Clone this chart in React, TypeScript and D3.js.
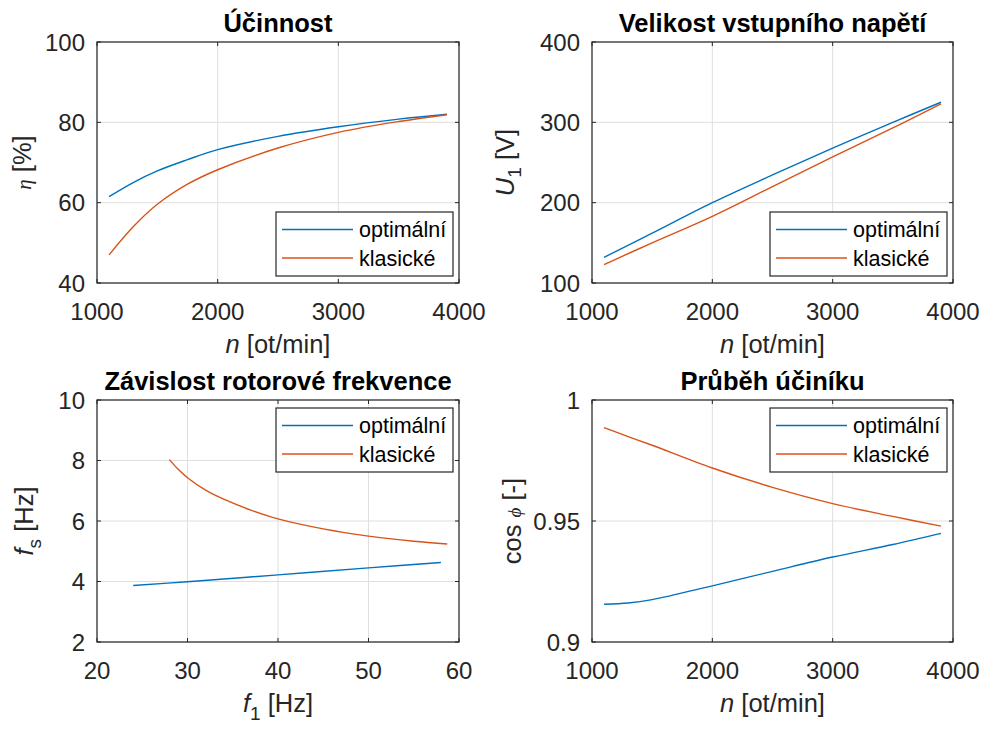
import React from 'react';
import * as d3 from 'd3';

// ---------- data ----------
const nRpmEta = [1100, 1300, 1500, 1750, 2000, 2500, 3000, 3500, 3900];
const etaOptimal = [61.5, 65.0, 67.9, 70.7, 73.2, 76.5, 78.9, 80.8, 82.0];
const etaClassic = [47.0, 54.0, 59.6, 64.6, 68.2, 73.6, 77.5, 80.2, 81.9];

const nRpmU = [1100, 1500, 2000, 2500, 3000, 3500, 3900];
const uOptimal = [132, 162, 200, 234.5, 268, 300, 325];
const uClassic = [123, 150, 183, 220, 257, 293, 323];

const f1Optimal = [24, 30, 40, 50, 58];
const fsOptimal = [3.87, 3.99, 4.22, 4.45, 4.63];
const f1Classic = [28, 29, 30, 32, 34, 37, 40, 45, 50, 55, 58.7];
const fsClassic = [8.03, 7.7, 7.43, 7.02, 6.72, 6.36, 6.07, 5.74, 5.5, 5.33, 5.24];

const nRpmCos = [1100, 1300, 1500, 2000, 2500, 3000, 3500, 3900];
const cosOptimal = [0.9156, 0.9161, 0.9175, 0.9232, 0.9292, 0.9351, 0.9403, 0.9449];
const cosClassic = [0.9886, 0.9849, 0.9813, 0.9719, 0.9639, 0.9572, 0.9519, 0.9479];

const nTicks = [1000, 2000, 3000, 4000];
const etaTicks = [40, 60, 80, 100];
const uTicks = [100, 200, 300, 400];
const f1Ticks = [20, 30, 40, 50, 60];
const fsTicks = [2, 4, 6, 8, 10];
const cosTicks = [0.9, 0.95, 1];

const legendLabels = ['optimální', 'klasické'];
const titles = ['Účinnost', 'Velikost vstupního napětí', 'Závislost rotorové frekvence', 'Průběh účiníku'];

const BLUE = '#0072BD';
const ORANGE = '#D95319';
const AX = '#262626';
const GRID = '#dfdfdf';
const FONT = '"Liberation Sans", Arial, Helvetica, sans-serif';
const SERIF = '"Liberation Serif", "DejaVu Serif", serif';

type Box = { l: number; r: number; t: number; b: number };

type PanelProps = {
  box: Box;
  xDomain: [number, number];
  yDomain: [number, number];
  xTicks: number[];
  yTicks: number[];
  title: string;
  xLabel: React.ReactNode;
  yLabel: React.ReactNode;
  yLabelX: number;
  series: { x: number[]; y: number[]; color: string }[];
  legend: 'se' | 'ne';
};

function Panel(p: PanelProps) {
  const { box } = p;
  const x = d3.scaleLinear().domain(p.xDomain).range([box.l, box.r]);
  const y = d3.scaleLinear().domain(p.yDomain).range([box.b, box.t]);
  const line = d3
    .line<[number, number]>()
    .x((d) => x(d[0]))
    .y((d) => y(d[1]))
    .curve(d3.curveCatmullRom.alpha(0.5));
  const tl = 4;
  const lw = 177;
  const lh = 64;
  const lx = box.r - 6 - lw;
  const ly = p.legend === 'se' ? box.b - 7 - lh : box.t + 8;
  const cx = (box.l + box.r) / 2;
  const cy = (box.t + box.b) / 2;
  return (
    <g>
      {p.xTicks.map((t) => (
        <line key={'gx' + t} x1={x(t)} x2={x(t)} y1={box.t} y2={box.b} stroke={GRID} strokeWidth={1} />
      ))}
      {p.yTicks.map((t) => (
        <line key={'gy' + t} y1={y(t)} y2={y(t)} x1={box.l} x2={box.r} stroke={GRID} strokeWidth={1} />
      ))}
      {p.series.map((s, i) => (
        <path
          key={'s' + i}
          d={line(s.x.map((v, j) => [v, s.y[j]] as [number, number])) || ''}
          fill="none"
          stroke={s.color}
          strokeWidth={1.4}
        />
      ))}
      {p.xTicks.map((t) => (
        <g key={'tx' + t}>
          <line x1={x(t)} x2={x(t)} y1={box.b} y2={box.b - tl} stroke={AX} />
          <line x1={x(t)} x2={x(t)} y1={box.t} y2={box.t + tl} stroke={AX} />
          <text x={x(t)} y={box.b + 37} textAnchor="middle" fontSize={24} fill={AX} fontFamily={FONT}>
            {String(t)}
          </text>
        </g>
      ))}
      {p.yTicks.map((t) => (
        <g key={'ty' + t}>
          <line y1={y(t)} y2={y(t)} x1={box.l} x2={box.l + tl} stroke={AX} />
          <line y1={y(t)} y2={y(t)} x1={box.r} x2={box.r - tl} stroke={AX} />
          <text x={box.l - 12} y={y(t) + 8.6} textAnchor="end" fontSize={24} fill={AX} fontFamily={FONT}>
            {String(t)}
          </text>
        </g>
      ))}
      <rect x={box.l} y={box.t} width={box.r - box.l} height={box.b - box.t} fill="none" stroke={AX} strokeWidth={1.2} />
      <text x={cx} y={box.t - 10.5} textAnchor="middle" fontSize={25.5} fontWeight="bold" fill="#000" fontFamily={FONT}>
        {p.title}
      </text>
      <text x={cx} y={box.b + 70} textAnchor="middle" fontSize={25.5} fill={AX} fontFamily={FONT}>
        {p.xLabel}
      </text>
      <text
        transform={`translate(${p.yLabelX},${cy}) rotate(-90)`}
        textAnchor="middle"
        fontSize={25.5}
        fill={AX}
        fontFamily={FONT}
      >
        {p.yLabel}
      </text>
      <rect x={lx} y={ly} width={lw} height={lh} fill="#fff" stroke={AX} strokeWidth={1.2} />
      {legendLabels.map((lab, i) => {
        const yy = ly + 17.5 + i * 28.5;
        return (
          <g key={'lg' + i}>
            <line x1={lx + 6} x2={lx + 77} y1={yy} y2={yy} stroke={p.series[i].color} strokeWidth={1.4} />
            <text x={lx + 83} y={yy + 7.5} fontSize={21.5} fill="#000" fontFamily={FONT}>
              {lab}
            </text>
          </g>
        );
      })}
    </g>
  );
}

const nLabel = (
  <>
    <tspan fontStyle="italic">n</tspan>
    <tspan> [ot/min]</tspan>
  </>
);

export default function App() {
  const boxTL: Box = { l: 97, r: 459, t: 42, b: 283 };
  const boxTR: Box = { l: 592, r: 953, t: 42, b: 283 };
  const boxBL: Box = { l: 97, r: 459, t: 400, b: 642 };
  const boxBR: Box = { l: 592, r: 953, t: 400, b: 642 };
  return (
    <svg
      width={987}
      height={729}
      style={{ position: 'absolute', left: 0, top: 0, background: '#fff' }}
      xmlns="http://www.w3.org/2000/svg"
    >
      <rect x={0} y={0} width={987} height={729} fill="#fff" />
      <Panel
        box={boxTL}
        xDomain={[1000, 4000]}
        yDomain={[40, 100]}
        xTicks={nTicks}
        yTicks={etaTicks}
        title={titles[0]}
        xLabel={nLabel}
        yLabel={
          <>
            <tspan fontFamily={SERIF} fontStyle="italic" fontSize={21}>η</tspan>
            <tspan> [%]</tspan>
          </>
        }
        yLabelX={31}
        series={[
          { x: nRpmEta, y: etaOptimal, color: BLUE },
          { x: nRpmEta, y: etaClassic, color: ORANGE },
        ]}
        legend="se"
      />
      <Panel
        box={boxTR}
        xDomain={[1000, 4000]}
        yDomain={[100, 400]}
        xTicks={nTicks}
        yTicks={uTicks}
        title={titles[1]}
        xLabel={nLabel}
        yLabel={
          <>
            <tspan fontStyle="italic">U</tspan>
            <tspan fontSize={19} dy={7}>1</tspan>
            <tspan dy={-7}> [V]</tspan>
          </>
        }
        yLabelX={514}
        series={[
          { x: nRpmU, y: uOptimal, color: BLUE },
          { x: nRpmU, y: uClassic, color: ORANGE },
        ]}
        legend="se"
      />
      <Panel
        box={boxBL}
        xDomain={[20, 60]}
        yDomain={[2, 10]}
        xTicks={f1Ticks}
        yTicks={fsTicks}
        title={titles[2]}
        xLabel={
          <>
            <tspan fontStyle="italic">f</tspan>
            <tspan fontSize={19} dy={8}>1</tspan>
            <tspan dy={-8}>  [Hz]</tspan>
          </>
        }
        yLabel={
          <>
            <tspan fontStyle="italic">f</tspan>
            <tspan fontSize={19} dy={8}>s</tspan>
            <tspan dy={-8}>  [Hz]</tspan>
          </>
        }
        yLabelX={33}
        series={[
          { x: f1Optimal, y: fsOptimal, color: BLUE },
          { x: f1Classic, y: fsClassic, color: ORANGE },
        ]}
        legend="ne"
      />
      <Panel
        box={boxBR}
        xDomain={[1000, 4000]}
        yDomain={[0.9, 1]}
        xTicks={nTicks}
        yTicks={cosTicks}
        title={titles[3]}
        xLabel={nLabel}
        yLabel={
          <>
            <tspan>cos </tspan>
            <tspan fontFamily={SERIF} fontStyle="italic" fontSize={19}>ϕ</tspan>
            <tspan> [-]</tspan>
          </>
        }
        yLabelX={521}
        series={[
          { x: nRpmCos, y: cosOptimal, color: BLUE },
          { x: nRpmCos, y: cosClassic, color: ORANGE },
        ]}
        legend="ne"
      />
    </svg>
  );
}
